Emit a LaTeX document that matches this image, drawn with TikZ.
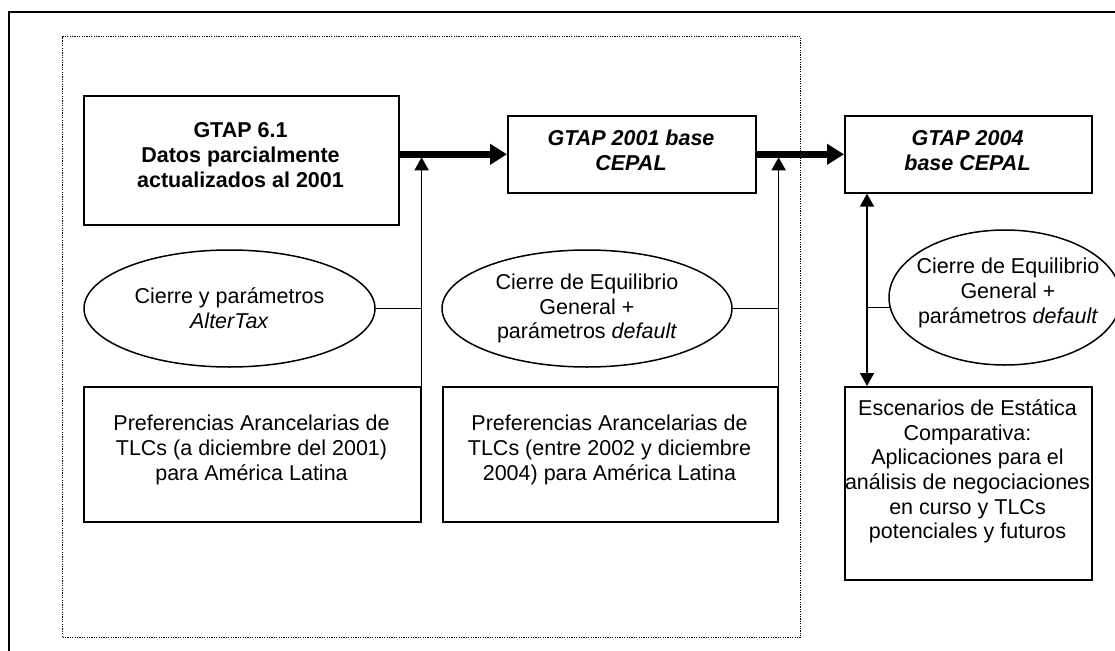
\documentclass[tikz,border=0pt]{standalone}
\usepackage{fontspec}
\setmainfont{Liberation Sans}
\usetikzlibrary{shapes.geometric,arrows.meta}
\newcommand\myfs{\fontsize{21.5}{24.7}\selectfont}
\begin{document}
\begin{tikzpicture}[x=1pt,y=-1pt,
  box/.style={draw,line width=1.6pt,inner sep=0pt,anchor=north west},
  oval/.style={draw,ellipse,line width=1.5pt,inner sep=0pt,align=center,font=\myfs},
  txt/.style={inner sep=0pt,align=center,font=\myfs},
  dotbox/.style={draw,line width=1.3pt,dash pattern=on 1.2pt off 1.2pt,inner sep=0pt,anchor=north west},
  bigarrow/.style={line width=6.5pt,-{Triangle[length=17pt,width=20pt]}},
  thinarrow/.style={line width=1.6pt,-{Triangle[length=13pt,width=14pt]}},
  dblarrow/.style={line width=1.6pt,{Triangle[length=13pt,width=14pt]}-{Triangle[length=13pt,width=14pt]}},
  conn/.style={line width=1.6pt}]
\useasboundingbox (0,0) rectangle (1115,650);
\clip (0,0) rectangle (1115,650);
% outer frame
\coordinate (fa) at (9,660);
\coordinate (fb) at (9,12);
\coordinate (fc) at (1130,12);
\draw[line width=2pt] (fa) -- (fb) -- (fc);
% dotted region
\node[dotbox,minimum width=738pt,minimum height=601pt] (reg) at (62,36) {};
% boxes
\node[box,minimum width=315pt,minimum height=129pt] (b1) at (83,95) {};
\node[txt,font=\myfs\bfseries] (t1) at (240.5,155) {GTAP 6.1\\Datos parcialmente\\actualizados al 2001};
\node[box,minimum width=248pt,minimum height=77pt] (b2) at (507,115) {};
\node[txt,font=\myfs\bfseries\itshape] (t2) at (631,150.5) {GTAP 2001 base\\CEPAL};
\node[box,minimum width=247pt,minimum height=77pt] (b3) at (844,115) {};
\node[txt,font=\myfs\bfseries\itshape] (t3) at (967.5,150.5) {GTAP 2004\\base CEPAL};
% ellipses
\node[oval,minimum width=291pt,minimum height=117pt] (e1) at (229.5,308.5) {Cierre y parámetros\\\textit{AlterTax}};
\node[oval,minimum width=290pt,minimum height=117pt] (e2) at (587,308.5) {Cierre de Equilibrio\\General +\\parámetros \textit{default}};
\node[oval,minimum width=232pt,minimum height=135pt] (e3) at (1005,297.5) {};
\node[txt] (t6) at (1008,293) {Cierre de Equilibrio\\General +\\parámetros \textit{default}};
% bottom boxes
\node[box,minimum width=337pt,minimum height=135pt] (p1) at (83,386) {};
\node[txt] (t7) at (251.5,450) {Preferencias Arancelarias de\\TLCs (a diciembre del 2001)\\para América Latina};
\node[box,minimum width=335pt,minimum height=135pt] (p2) at (442,386) {};
\node[txt] (t8) at (609.5,450) {Preferencias Arancelarias de\\TLCs (entre 2002 y diciembre\\2004) para América Latina};
\node[box,minimum width=247pt,minimum height=193pt] (p3) at (844,386) {};
\node[txt] (t9) at (967.5,471.5) {Escenarios de Estática\\Comparativa:\\Aplicaciones para el\\análisis de negociaciones\\en curso y TLCs\\potenciales y futuros};
% connectors
\draw[bigarrow] (b1.east |- b2.west) -- (b2.west);
\draw[bigarrow] (b2.east) -- (b3.west);
\draw[thinarrow] (p1.north east) -- ([yshift=-3pt]p1.north east |- b2.west);
\draw[thinarrow] (p2.north east) -- ([yshift=-3pt]p2.north east |- b2.east);
\draw[conn] (e1.east) -- (e1.east -| p1.north east);
\draw[conn] (e2.east) -- (e2.east -| p2.north east);
\coordinate (dx) at (867,0);
\draw[dblarrow] (b3.south -| dx) -- (p3.north -| dx);
\draw[conn] (e3.185) -- (e3.185 -| dx);
\end{tikzpicture}
\end{document}
